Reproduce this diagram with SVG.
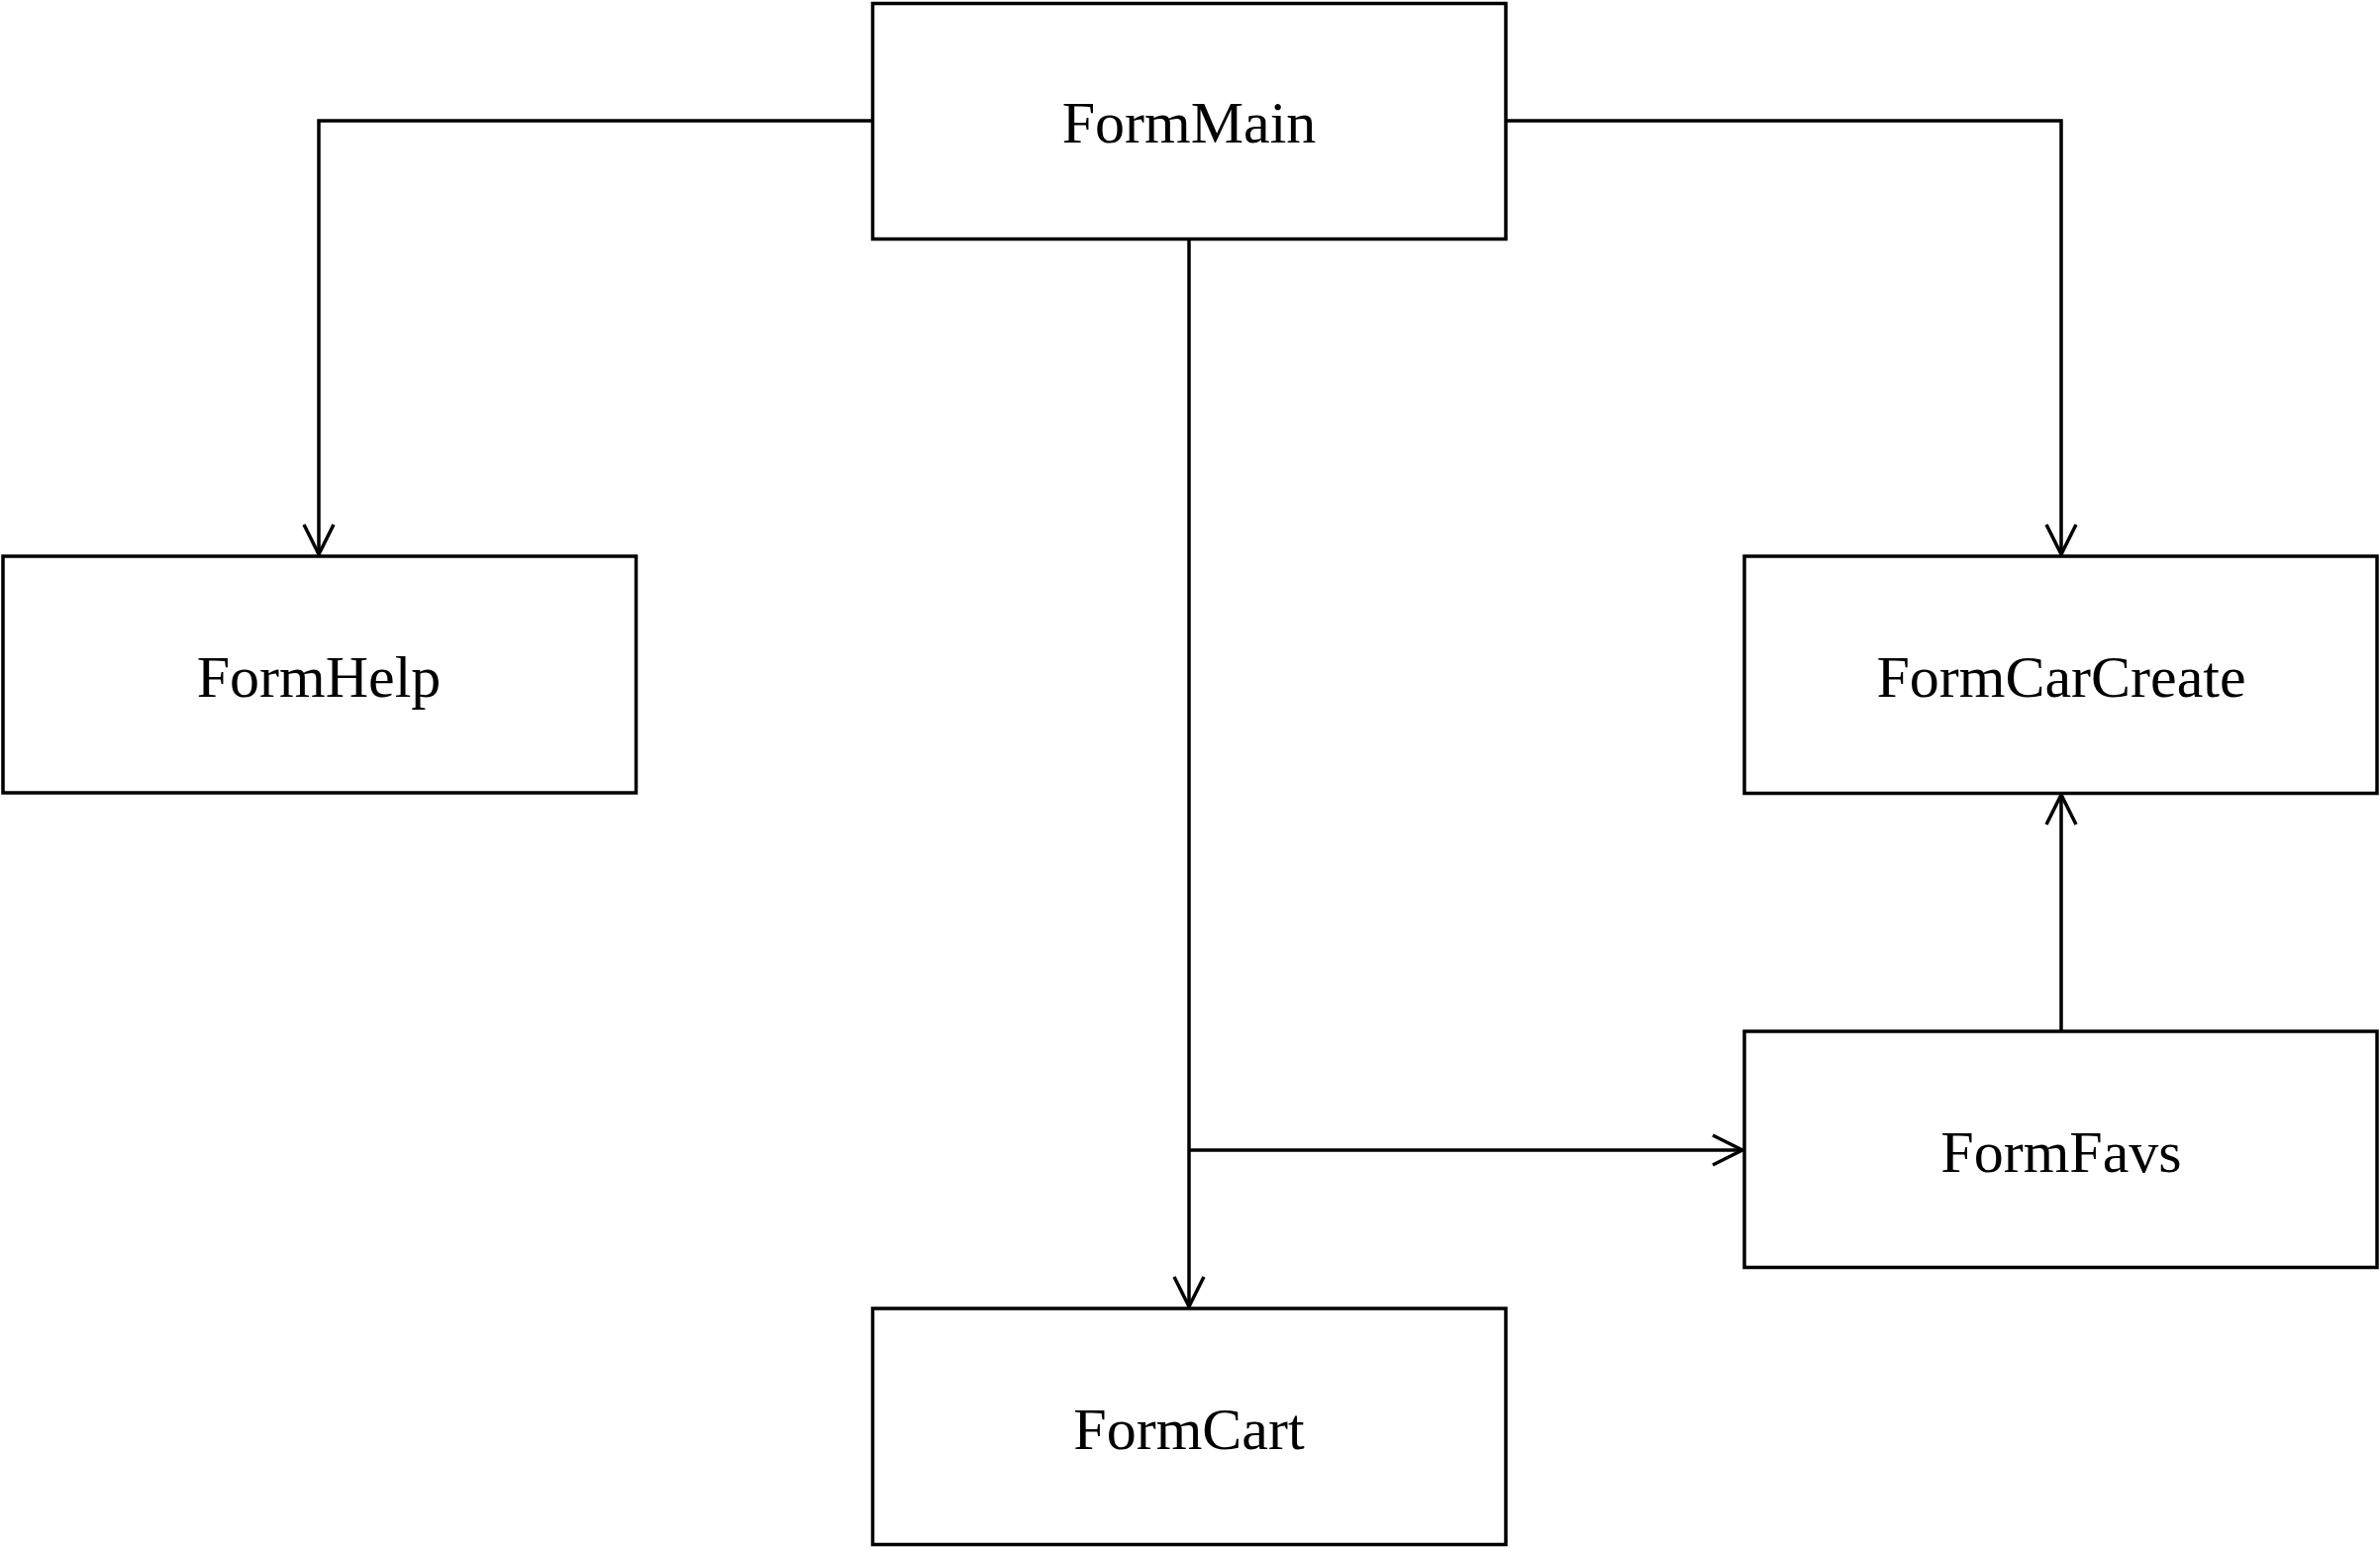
<svg xmlns="http://www.w3.org/2000/svg" width="2404" height="1564" viewBox="0 0 2404 1564">
<style>
.box{fill:#fff;stroke:#000;stroke-width:3.5}
.lbl{font-family:"Liberation Serif","Times New Roman",serif;font-size:60px;fill:#000;text-anchor:middle}
.conn{fill:none;stroke:#000;stroke-width:3.5}
</style>
<defs>
<marker id="arr" markerUnits="userSpaceOnUse" markerWidth="40" markerHeight="40" viewBox="-34 -20 40 40" refX="0" refY="0" orient="auto" overflow="visible">
<path d="M-30,-15 L0,0 L-30,15" fill="none" stroke="#000" stroke-width="3.5"/>
</marker>
</defs>
<g id="connectors">
<path class="conn" d="M881,122 H322 V560" marker-end="url(#arr)"/>
<path class="conn" d="M1521,122 H2082 V560" marker-end="url(#arr)"/>
<path class="conn" d="M1201,241 V1320" marker-end="url(#arr)"/>
<path class="conn" d="M1201,1162 H1760" marker-end="url(#arr)"/>
<path class="conn" d="M2082,1042 V803" marker-end="url(#arr)"/>
</g>
<g id="FormMain">
<rect class="box" x="881.5" y="3.5" width="639.5" height="238"/>
<text class="lbl" x="1201" y="144">FormMain</text>
</g>
<g id="FormHelp">
<rect class="box" x="3" y="562" width="639.5" height="239"/>
<text class="lbl" x="322" y="704">FormHelp</text>
</g>
<g id="FormCarCreate">
<rect class="box" x="1762" y="562" width="639" height="239.5"/>
<text class="lbl" x="2082" y="703.5">FormCarCreate</text>
</g>
<g id="FormFavs">
<rect class="box" x="1762" y="1042" width="639" height="238.5"/>
<text class="lbl" x="2082" y="1184">FormFavs</text>
</g>
<g id="FormCart">
<rect class="box" x="881.5" y="1322" width="639.5" height="238.5"/>
<text class="lbl" x="1201" y="1463.5">FormCart</text>
</g>
</svg>
